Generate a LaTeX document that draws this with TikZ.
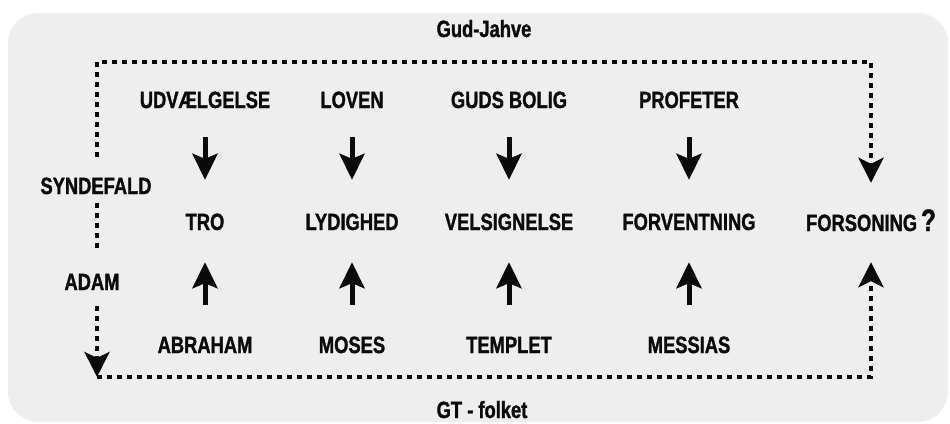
\documentclass[tikz,border=0pt]{standalone}
\usepackage{fontspec}
\setmainfont{Liberation Sans}[FakeStretch=0.78, BoldFeatures={FakeBold=1.3}]
\usetikzlibrary{arrows.meta}
\definecolor{panel}{HTML}{EEEEEE}
\definecolor{ink}{HTML}{0A0A0A}

\begin{document}
\begin{tikzpicture}[x=1pt, y=-1pt,
    every node/.style={font=\fontsize{23.5}{26}\selectfont\bfseries, text=ink,
        inner sep=0pt, text height=16pt, text depth=0pt},
    solidarrow/.style={ink, line width=5pt, -{Stealth[length=26pt, width=25pt, inset=5pt]}},
    dotline/.style={ink, line width=4.6pt, dash pattern=on 4.6pt off 5.4pt},
    dottip/.style={-{Stealth[length=25pt, width=25pt, inset=6pt]}},
]
\useasboundingbox (0,0) rectangle (950,423);
\fill[panel, rounded corners=30pt] (8,13) rectangle (948,422);

% ================================================================ the two sides
\node (gud) at (484,29) {Gud-Jahve};
\node (folk) at (482,410) {GT - folket};
\coordinate (toprail) at (484,62);
\coordinate (corner) at (97,377);

\node (syn) at (96,186) {SYNDEFALD};
\node (adam) at (92,282) {ADAM};
\node (forson) at (871,223) {FORSONING\kern4pt{\fontsize{31}{31}\selectfont ?}};

% ================================================================ the columns
\foreach \x/\gift/\fruit/\man [count=\i] in {
    205/UDVÆLGELSE/TRO/ABRAHAM,
    352/LOVEN/LYDIGHED/MOSES,
    509/GUDS BOLIG/VELSIGNELSE/TEMPLET,
    689/PROFETER/FORVENTNING/MESSIAS}{
    \node (gift\i) at (\x,100) {\gift};
    \node (fruit\i) at (\x,222) {\fruit};
    \node (man\i) at (\x,345) {\man};
    \draw[solidarrow, shorten <=29pt, shorten >=34pt] (gift\i) -- (fruit\i);
    \draw[solidarrow, shorten <=32pt, shorten >=32pt] (man\i) -- (fruit\i);
}

% ================================================================ dotted paths
\draw[dotline, dottip, shorten <=21pt, shorten >=32pt]
    (corner |- syn.north) |- (toprail) -| (forson.north);
\draw[dotline, shorten <=9pt, shorten >=21pt] (corner |- syn.south) -- (corner |- adam.north);
\draw[dotline, dottip, shorten <=16pt] (corner |- adam.south) -- (corner);
\draw[dotline, dottip, shorten >=31pt] (corner) -| (forson.south);
\end{tikzpicture}
\end{document}
